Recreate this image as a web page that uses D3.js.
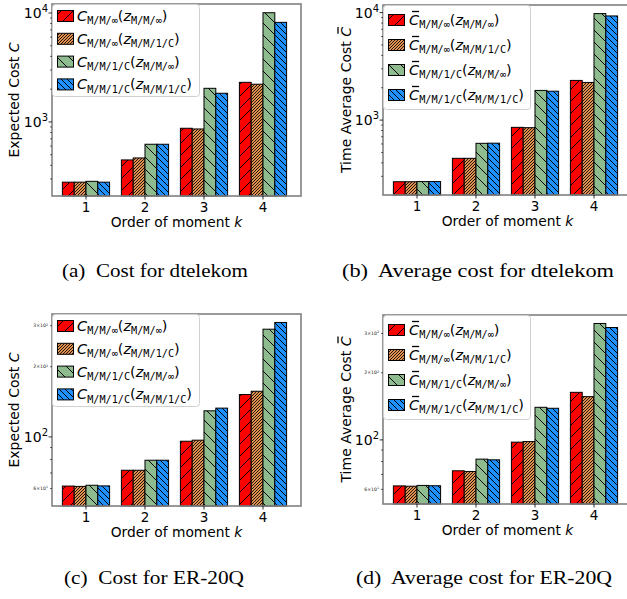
<!DOCTYPE html>
<html>
<head>
<meta charset="utf-8">
<script src="https://cdn.jsdelivr.net/npm/d3@7"></script>
<style>
  body { margin: 0; background: #fff; }
  svg { display: block; font-family: "DejaVu Sans", sans-serif; }
</style>
</head>
<body>
<div id="chart"></div>
<script>
// data
const moments = [1, 2, 3, 4]

// rows: C_inf(z_inf), C_inf(z_1c), C_1c(z_inf), C_1c(z_1c)
const dtelekomCost = [
  [280, 448, 875, 2310],
  [280, 467, 862, 2220],
  [285, 624, 2036, 10060],
  [280, 624, 1834, 8210]
]
const dtelekomAvgCost = [
  [267, 441, 856, 2340],
  [267, 441, 850, 2240],
  [268, 608, 1888, 9790],
  [268, 610, 1857, 9310]
]
const er20qCost = [
  [61.5, 71.9, 95.8, 152],
  [61.3, 71.9, 96.8, 157],
  [62.0, 79.4, 129.4, 290],
  [61.6, 79.4, 132.9, 310]
]
const er20qAvgCost = [
  [62.2, 72.7, 97.7, 163.4],
  [62.0, 72.2, 98.3, 156.3],
  [62.5, 82.0, 140.0, 332.6],
  [62.3, 81.4, 138.6, 319]
]

const ylimA = [209, 12100]
const ylimB = [201, 11770]
const ylimC = [50.5, 337]
const ylimD = [51.6, 363]

const captions = ['(a)  Cost for dtelekom', '(b)  Average cost for dtelekom',
                  '(c)  Cost for ER-20Q', '(d)  Average cost for ER-20Q']
const subInf = 'M/M/\u221e'
const sub1C = 'M/M/1/C'
const legendSubs = [[subInf, subInf], [subInf, sub1C], [sub1C, subInf], [sub1C, sub1C]]

const colors = ['#ff0000', '#e0904f', '#8fbc8f', '#1e90ff']
// hatch: direction and spacing (px)
const hatches = [['/', 12], ['/', 3], ['\\', 12], ['\\', 6]]

const W = 627, H = 599

const svg = d3.select('#chart').append('svg')
  .attr('width', W).attr('height', H)
  .attr('viewBox', [0, 0, W, H])
  .style('overflow', 'hidden')

const defs = svg.append('defs')
hatches.forEach(([dir, s], i) => {
  let p = defs.append('pattern')
    .attr('id', 'hatch' + i)
    .attr('patternUnits', 'userSpaceOnUse')
    .attr('width', s).attr('height', s)
  p.append('rect').attr('width', s).attr('height', s).attr('fill', colors[i])
  let lw = s < 4 ? 0.85 : 1
  if (dir === '/') {
    p.append('path').attr('d', `M${-s},${s} L${s},${-s} M0,${s} L${s},0 M0,${2*s} L${2*s},0`)
      .attr('stroke', '#000').attr('stroke-width', lw)
  } else {
    p.append('path').attr('d', `M${-s},0 L${s},${2*s} M0,0 L${s},${s} M0,${-s} L${2*s},${s}`)
      .attr('stroke', '#000').attr('stroke-width', lw)
  }
})

const panels = [
  {data: dtelekomCost, ylim: ylimA, left: 52, top: 4, right: 301, bottom: 196, bar: false,
   ylabel: 'Expected Cost ', ylx: 14, cap: captions[0], capX: 155, capY: 277, capW: 186},
  {data: dtelekomAvgCost, ylim: ylimB, left: 383, top: 5, right: 632, bottom: 195, bar: true,
   ylabel: 'Time Average Cost ', ylx: 346, cap: captions[1], capX: 478, capY: 277, capW: 272},
  {data: er20qCost, ylim: ylimC, left: 52, top: 314, right: 301, bottom: 506, bar: false,
   ylabel: 'Expected Cost ', ylx: 14, cap: captions[2], capX: 154, capY: 584, capW: 180},
  {data: er20qAvgCost, ylim: ylimD, left: 383, top: 315, right: 632, bottom: 504, bar: true,
   ylabel: 'Time Average Cost ', ylx: 346, cap: captions[3], capX: 484, capY: 584, capW: 256}
]

panels.forEach(drawPanel)

function drawPanel(p) {
  let g = svg.append('g')
  let x = d3.scaleLinear().domain([0.424, 4.644]).range([p.left, p.right])
  let y = d3.scaleLog().domain(p.ylim).range([p.bottom, p.top])
  let bw = 0.2

  // bars
  p.data.forEach((vals, i) => {
    g.selectAll(null)
      .data(vals.map((v, j) => ({k: moments[j], v: v})))
      .join('rect')
        .attr('x', d => x(d.k + (i - 2) * bw))
        .attr('y', d => y(d.v))
        .attr('width', x(bw) - x(0))
        .attr('height', d => p.bottom - y(d.v))
        .attr('fill', `url(#hatch${i})`)
        .attr('stroke', '#000')
        .attr('stroke-width', 1)
  })

  // frame
  g.append('rect')
    .attr('x', p.left).attr('y', p.top)
    .attr('width', p.right - p.left).attr('height', p.bottom - p.top)
    .attr('fill', 'none').attr('stroke', '#808080').attr('stroke-width', 1.6)

  // x ticks
  moments.forEach(k => {
    g.append('line').attr('x1', x(k)).attr('x2', x(k))
      .attr('y1', p.bottom).attr('y2', p.bottom + 3.5)
      .attr('stroke', '#000').attr('stroke-width', 0.8)
    g.append('text').attr('x', x(k)).attr('y', p.bottom + 15.5)
      .attr('text-anchor', 'middle').attr('font-size', 13.5).text(k)
  })
  let xl = g.append('text').attr('x', (p.left + p.right) / 2).attr('y', p.bottom + 30.5)
    .attr('text-anchor', 'middle').attr('font-size', 13.8)
  xl.append('tspan').text('Order of moment ')
  xl.append('tspan').attr('font-style', 'italic').text('k')

  // y ticks (log)
  let lo = Math.floor(Math.log10(p.ylim[0])), hi = Math.ceil(Math.log10(p.ylim[1]))
  let span = Math.log10(p.ylim[1]) - Math.log10(p.ylim[0])
  for (let e = lo; e <= hi; e++) {
    for (let m = 1; m <= 9; m++) {
      let v = m * Math.pow(10, e)
      if (v < p.ylim[0] || v > p.ylim[1]) continue
      let yy = y(v)
      g.append('line').attr('x1', p.left - (m === 1 ? 3.5 : 2)).attr('x2', p.left)
        .attr('y1', yy).attr('y2', yy)
        .attr('stroke', '#000').attr('stroke-width', m === 1 ? 0.8 : 0.6)
      if (m === 1) {
        let t = g.append('text').attr('x', p.left - 4).attr('y', yy + 5)
          .attr('text-anchor', 'end').attr('font-size', 14)
        t.append('tspan').text('10')
        t.append('tspan').attr('font-size', 10).attr('dy', -6).text(e)
      } else if (span < 1 && [2, 3, 4, 6].includes(m)) {
        let t = g.append('text').attr('x', p.left - 4).attr('y', yy + 1.6)
          .attr('text-anchor', 'end').attr('font-size', 4.6).attr('fill', '#222')
        t.append('tspan').text(m + '\u00d710')
        t.append('tspan').attr('font-size', 3.2).attr('dy', -1.8).text(e)
      }
    }
  }

  // y label (baseline at +5 in the rotated frame, so the text is centred on ylx)
  let yg = g.append('g').attr('transform', `translate(${p.ylx},${(p.top + p.bottom) / 2}) rotate(-90)`)
  let yt = yg.append('text').attr('text-anchor', 'middle').attr('y', 5)
    .attr('font-size', 14)
  yt.append('tspan').text(p.ylabel)
  yt.append('tspan').attr('font-style', 'italic').text('C')
  if (p.bar) {
    let n = p.ylabel.length
    let s = yt.node().getStartPositionOfChar(n), en = yt.node().getEndPositionOfChar(n)
    yg.append('line').attr('x1', s.x + 3).attr('x2', en.x)
      .attr('y1', s.y - 13).attr('y2', s.y - 13)
      .attr('stroke', '#000').attr('stroke-width', 1.3)
  }

  // legend
  let rowH = p.bar ? 25 : 22.8
  let first = p.bar ? 15 : 12
  let lh = p.bar ? 104 : 92
  let lg = g.append('g')
  lg.append('rect').attr('x', p.left + 0.5).attr('y', p.top + 0.5)
    .attr('width', 147).attr('height', lh).attr('rx', 3)
    .attr('fill', '#fff').attr('fill-opacity', 0.85)
    .attr('stroke', '#d0d0d0').attr('stroke-width', 1)
  legendSubs.forEach(([s1, s2], i) => {
    let cy = p.top + first + i * rowH
    lg.append('rect').attr('x', p.left + 5.5).attr('y', cy - 5.5)
      .attr('width', 16).attr('height', 11)
      .attr('fill', `url(#hatch${i})`).attr('stroke', '#000').attr('stroke-width', 1)
    let t = lg.append('text').attr('x', p.left + (p.bar ? 26 : 25)).attr('y', cy + 5)
      .attr('font-size', 14.5)
    t.append('tspan').attr('font-style', 'italic').text('C')
    t.append('tspan').attr('font-family', 'DejaVu Sans Mono').attr('font-size', 10.2)
      .attr('dy', 3.3).text(s1)
    t.append('tspan').attr('dy', -3.3).text('(')
    t.append('tspan').attr('font-style', 'italic').text('z')
    t.append('tspan').attr('font-family', 'DejaVu Sans Mono').attr('font-size', 10.2)
      .attr('dy', 3.3).text(s2)
    t.append('tspan').attr('dy', -3.3).text(')')
    if (p.bar) {
      let s = t.node().getStartPositionOfChar(0), en = t.node().getEndPositionOfChar(0)
      lg.append('line').attr('x1', s.x + 3).attr('x2', en.x)
        .attr('y1', cy - 8.5).attr('y2', cy - 8.5)
        .attr('stroke', '#000').attr('stroke-width', 1.3)
    }
  })

  // caption
  svg.append('text').attr('x', p.capX).attr('y', p.capY)
    .attr('text-anchor', 'middle')
    .attr('font-family', '"Liberation Serif", "Times New Roman", serif')
    .attr('font-size', 19)
    .attr('textLength', p.capW).attr('lengthAdjust', 'spacingAndGlyphs')
    .style('white-space', 'pre')
    .text(p.cap)
}
</script>
</body>
</html>
